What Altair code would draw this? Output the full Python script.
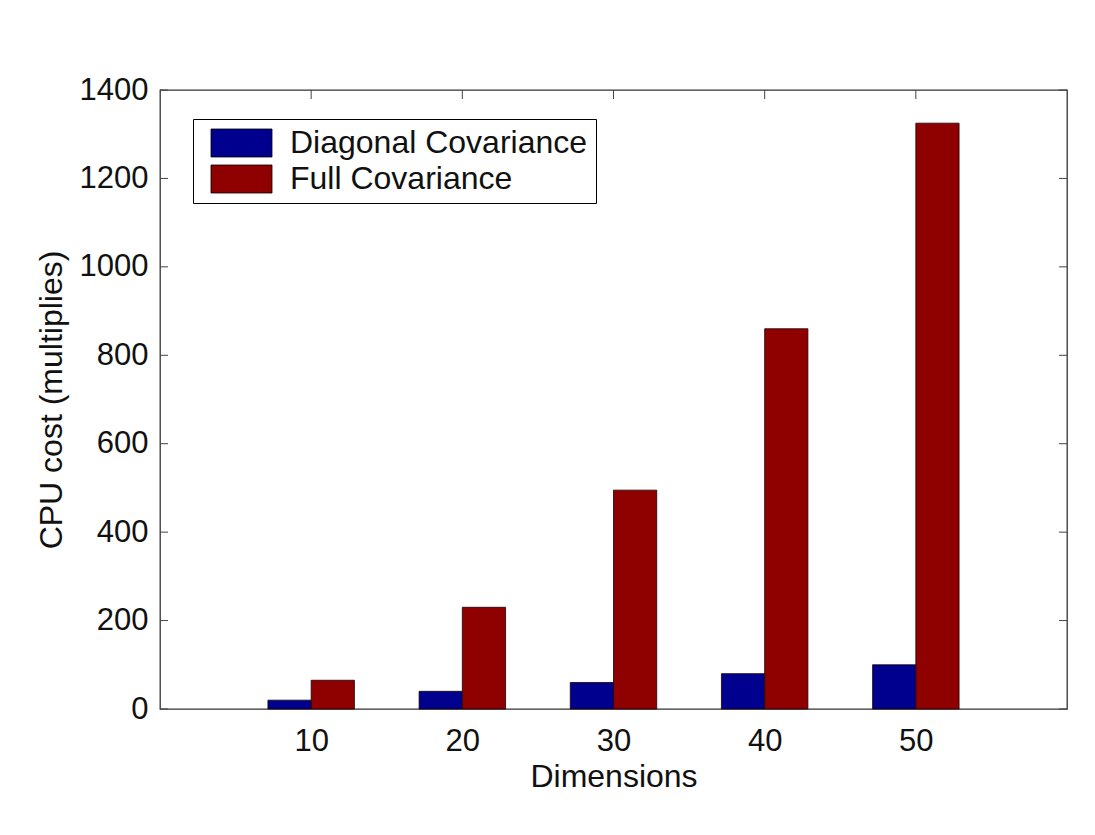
import altair as alt
import pandas as pd

# ---- data ----
dimensions = [10, 20, 30, 40, 50]
diagonal_cov = [20, 40, 60, 80, 100]
full_cov = [65, 230, 495, 860, 1325]
series_names = ["Diagonal Covariance", "Full Covariance"]
series_colors = ["#00008F", "#8F0000"]
y_tick_values = [0, 200, 400, 600, 800, 1000, 1200, 1400]
x_tick_values = [10, 20, 30, 40, 50]

BAR_W = 2.86  # bar width in data units (Matlab grouped bar)
W, H = 907, 619
FONT = "Liberation Sans"

rows = []
for d, v in zip(dimensions, diagonal_cov):
    rows.append({"dim": d, "value": v, "series": series_names[0], "side": -1})
for d, v in zip(dimensions, full_cov):
    rows.append({"dim": d, "value": v, "series": series_names[1], "side": 0})
df = pd.DataFrame(rows)

x_scale = alt.Scale(domain=[0, 60], nice=False, zero=False)
y_scale = alt.Scale(domain=[0, 1400], nice=False)

x_axis = alt.Axis(
    values=x_tick_values,
    title="Dimensions",
    ticks=False,
    domain=False,
    grid=False,
    labelPadding=17,
    titlePadding=5,
    titleFontSize=32,
    format="d",
)
y_axis = alt.Axis(
    values=y_tick_values,
    title="CPU cost (multiplies)",
    ticks=False,
    domain=False,
    grid=False,
    labelPadding=12,
    titlePadding=11,
    titleFontSize=32,
    format="d",
)

bars = (
    alt.Chart(df)
    .transform_calculate(
        x0=f"datum.dim + datum.side * {BAR_W}",
        x1=f"datum.dim + (datum.side + 1) * {BAR_W}",
    )
    .mark_bar(stroke="#1a0000", strokeWidth=0.8)
    .encode(
        x=alt.X("x0:Q", scale=x_scale, axis=x_axis),
        x2="x1:Q",
        y=alt.Y("value:Q", scale=y_scale, axis=y_axis),
        y2=alt.datum(0),
        color=alt.Color(
            "series:N",
            scale=alt.Scale(domain=series_names, range=series_colors),
            legend=alt.Legend(
                title=None,
                orient="none",
                legendX=33,
                legendY=29,
                symbolType="M-0.4286,-1H3.9286V1H-0.4286Z",
                symbolSize=784,
                symbolStrokeColor="#000000",
                symbolStrokeWidth=0.8,
                symbolOpacity=1,
                labelFontSize=32,
                labelFont=FONT,
                labelColor="#111111",
                labelLimit=0,
                labelOffset=57,
                rowPadding=4,
                padding=8,
                strokeColor="#000000",
                fillColor="#ffffff",
            ),
        ),
    )
)

ydf = pd.DataFrame({"value": y_tick_values})
xdf = pd.DataFrame({"x0": x_tick_values})
tick_color = "#444444"

y_left = alt.Chart(ydf).mark_rule(color=tick_color, strokeWidth=1).encode(
    y=alt.Y("value:Q", scale=y_scale, axis=y_axis), x=alt.value(0), x2=alt.value(8)
)
y_right = alt.Chart(ydf).mark_rule(color=tick_color, strokeWidth=1).encode(
    y=alt.Y("value:Q", scale=y_scale, axis=y_axis), x=alt.value(W), x2=alt.value(W - 8)
)
x_top = alt.Chart(xdf).mark_rule(color=tick_color, strokeWidth=1).encode(
    x=alt.X("x0:Q", scale=x_scale, axis=x_axis), y=alt.value(0), y2=alt.value(9)
)
x_bottom = alt.Chart(xdf).mark_rule(color=tick_color, strokeWidth=1).encode(
    x=alt.X("x0:Q", scale=x_scale, axis=x_axis), y=alt.value(H), y2=alt.value(H - 8)
)

chart = (
    alt.layer(y_left, y_right, x_top, x_bottom, bars)
    .properties(
        width=W,
        height=H,
        autosize=alt.AutoSizeParams(type="none"),
        padding={"left": 152, "top": 82, "right": 12, "bottom": 110},
        background="#ffffff",
    )
    .configure_view(stroke="#333333", strokeWidth=1.3)
    .configure_axis(
        labelFont=FONT,
        titleFont=FONT,
        labelFontSize=31,
        titleFontSize=32,
        labelColor="#111111",
        titleColor="#111111",
        titleFontWeight="normal",
    )
)

chart.save("out.html", embed_options={"renderer": "svg", "actions": False})
